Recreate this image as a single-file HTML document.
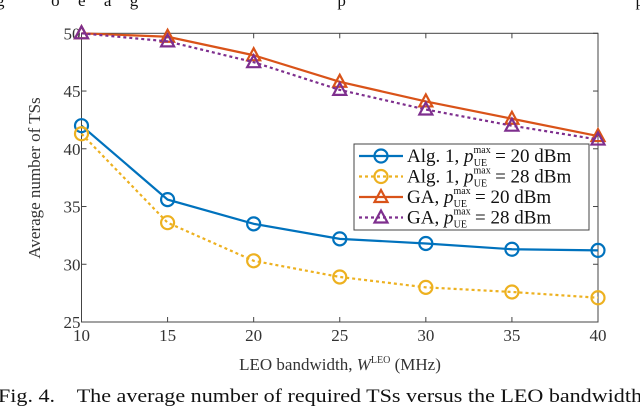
<!DOCTYPE html>
<html><head><meta charset="utf-8"><style>
body{margin:0;background:#fff;width:640px;height:406px;overflow:hidden;font-family:"Liberation Serif",serif}
svg{display:block}
text{white-space:pre}
</style></head><body>
<svg id="c" width="640" height="406" font-family="Liberation Serif, serif">
<text x="-4" y="6" font-size="17" fill="#111" textLength="648" lengthAdjust="spacing">g        o   e   a   g                                   p                                                   p</text>
<text x="-2" y="402" font-size="19" fill="#111" textLength="644" lengthAdjust="spacingAndGlyphs">Fig. 4.    The average number of required TSs versus the LEO bandwidth</text>
</svg>
<script>
const categories=[10,15,20,25,30,35,40];
const alg20=[42,35.6,33.5,32.2,31.8,31.3,31.2];
const alg28=[41.3,33.6,30.3,28.9,28.0,27.6,27.1];
const ga20=[50,49.7,48.1,45.8,44.1,42.6,41.1];
const ga28=[50,49.3,47.5,45.1,43.4,42.0,40.8];
const yTicks=[25,30,35,40,45,50];
const xTicks=[10,15,20,25,30,35,40];
const L=81.5,R=598,T=33.3,B=322;
const xs=v=>L+(v-10)/30*(R-L), ys=v=>B-(v-25)/25*(B-T);
const svg=document.getElementById('c');const NS='http://www.w3.org/2000/svg';
function mk(t,a,p){const e=document.createElementNS(NS,t);for(const k in a)e.setAttribute(k,a[k]);(p||svg).appendChild(e);return e;}
const frame=mk('rect',{x:L,y:T,width:R-L,height:B-T,fill:'none',stroke:'#444','stroke-width':1});


yTicks.forEach(v=>{const y=ys(v);
mk('line',{x1:L,x2:L+5,y1:y,y2:y,stroke:'#444'});mk('line',{x1:R,x2:R-5,y1:y,y2:y,stroke:'#444'});
const t=mk('text',{x:L-1,y:y+6,'text-anchor':'end','font-size':17,fill:'#333'});t.textContent=v;

});
xTicks.forEach(v=>{const x=xs(v);
mk('line',{x1:x,x2:x,y1:B,y2:B-5,stroke:'#444'});mk('line',{x1:x,x2:x,y1:T,y2:T+5,stroke:'#444'});
const t=mk('text',{x:x,y:B+19,'text-anchor':'middle','font-size':17,fill:'#333'});t.textContent=v;

});
const xt=mk('text',{x:340,y:370,'text-anchor':'middle','font-size':17,fill:'#333'});
xt.innerHTML='LEO bandwidth, <tspan font-style="italic">W</tspan><tspan font-size="10" dy="-7">LEO</tspan><tspan dy="7"> (MHz)</tspan>';


const yt=mk('text',{x:0,y:0,'text-anchor':'middle','font-size':17,fill:'#333',transform:'translate(40,178) rotate(-90)'});
yt.textContent='Average number of TSs';


function marker(type,x,y,c,g){
 if(type==='o')mk('circle',{cx:x,cy:y,r:6.5,fill:'none',stroke:c,'stroke-width':2.2},g);
 else mk('polygon',{points:`${x},${y-7} ${x-6.5},${y+5} ${x+6.5},${y+5}`,fill:'none',stroke:c,'stroke-width':2.2},g);}
const series=[[alg20,'#0072bd','o',false,'series-alg1-20dbm'],[alg28,'#edb120','o',true,'series-alg1-28dbm'],[ga20,'#d95319','t',false,'series-ga-20dbm'],[ga28,'#7e2f8e','t',true,'series-ga-28dbm']];
series.forEach(([d,c,m,dash,n])=>{const g=mk('g',{});


const a={points:d.map((v,i)=>xs(categories[i])+','+ys(v)).join(' '),fill:'none',stroke:c,'stroke-width':2.2};
if(dash)a['stroke-dasharray']='3,3';mk('polyline',a,g);
d.forEach((v,i)=>marker(m,xs(categories[i]),ys(v),c,g));});
const lg=mk('g',{});


mk('rect',{x:354,y:144,width:235,height:86,fill:'#fff',stroke:'#444'},lg);
const labels=['Alg. 1, ','Alg. 1, ','GA, ','GA, '],vals=['20','28','20','28'];
series.forEach(([d,c,m,dash],i)=>{const y=156+i*20.5;
const a={x1:359,x2:403,y1:y,y2:y,stroke:c,'stroke-width':2.2};if(dash)a['stroke-dasharray']='3,3';mk('line',a,lg);
marker(m,381,y,c,lg);
const t=mk('text',{x:407,y:y+6,'font-size':19,fill:'#111'},lg);
t.innerHTML=labels[i]+'<tspan font-style="italic">p</tspan><tspan font-size="10" dy="-9">max</tspan><tspan font-size="10" dx="-17" dy="13">UE</tspan><tspan dx="8" dy="-4">= '+vals[i]+' dBm</tspan>';

});
</script>
</body></html>
